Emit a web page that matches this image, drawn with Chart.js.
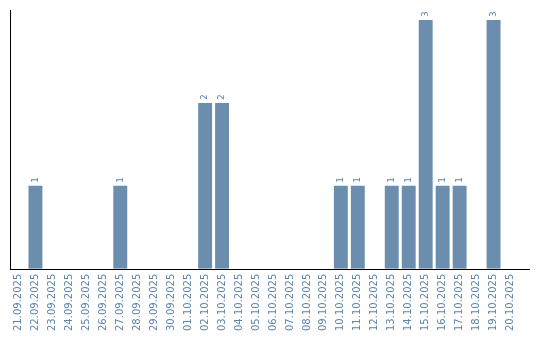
<!DOCTYPE html>
<html>
<head>
<meta charset="utf-8">
<script src="https://cdn.jsdelivr.net/npm/chart.js@4.4.1/dist/chart.umd.min.js"></script>
<style>
  html, body { margin: 0; padding: 0; background: #fff; }
  #wrap { width: 540px; height: 340px; }
</style>
</head>
<body>
<div id="wrap"><canvas id="chartDays" width="540" height="340"></canvas></div>
<script>
/* Datos */
const days = [
  '21.09.2025', '22.09.2025', '23.09.2025', '24.09.2025', '25.09.2025',
  '26.09.2025', '27.09.2025', '28.09.2025', '29.09.2025', '30.09.2025',
  '01.10.2025', '02.10.2025', '03.10.2025', '04.10.2025', '05.10.2025',
  '06.10.2025', '07.10.2025', '08.10.2025', '09.10.2025', '10.10.2025',
  '11.10.2025', '12.10.2025', '13.10.2025', '14.10.2025', '15.10.2025',
  '16.10.2025', '17.10.2025', '18.10.2025', '19.10.2025', '20.10.2025',
];
const counts = [
  0, 1, 0, 0, 0,
  0, 1, 0, 0, 0,
  0, 2, 2, 0, 0,
  0, 0, 0, 0, 1,
  1, 0, 1, 1, 3,
  1, 1, 0, 3, 0,
];

const barColor = '#6b8dae';
const textColor = '#5f84aa';

/* Etiquetas sobre las barras */
const valueLabels = {
  id: 'valueLabels',
  afterDatasetsDraw(chart) {
    const ctx = chart.ctx;
    const meta = chart.getDatasetMeta(0);
    ctx.save();
    ctx.fillStyle = textColor;
    ctx.font = '9px "DejaVu Sans"';
    ctx.textAlign = 'left';
    ctx.textBaseline = 'middle';
    meta.data.forEach((bar, i) => {
      if (!counts[i]) return;
      ctx.save();
      ctx.translate(bar.x, bar.y - 3);
      ctx.rotate(-Math.PI / 2);
      ctx.fillText(String(counts[i]), 0, 0);
      ctx.restore();
    });
    ctx.restore();
  },
};

/* Linea del eje x hasta el borde */
const axisLine = {
  id: 'axisLine',
  afterDraw(chart) {
    const { ctx, chartArea } = chart;
    const y = Math.round(chartArea.bottom) + 0.5;
    ctx.save();
    ctx.strokeStyle = '#000';
    ctx.lineWidth = 1;
    ctx.beginPath();
    ctx.moveTo(chartArea.left, y);
    ctx.lineTo(530, y);
    ctx.stroke();
    ctx.restore();
  },
};

const ctx = document.getElementById('chartDays').getContext('2d');
const chartDays = new Chart(ctx, {
  type: 'bar',
  data: {
    labels: days,
    datasets: [
      {
        data: counts,
        backgroundColor: barColor,
        borderWidth: 0,
        categoryPercentage: 0.82,
        barPercentage: 1,
      },
    ],
  },
  options: {
    responsive: false,
    animation: false,
    layout: { padding: { left: 9, right: 21, top: 10, bottom: 4 } },
    plugins: {
      legend: { display: false },
      tooltip: { enabled: false },
    },
    scales: {
      x: {
        grid: { display: false, drawTicks: false },
        border: { display: false },
        ticks: {
          color: textColor,
          font: { family: 'DejaVu Sans', size: 10 },
          minRotation: 90,
          maxRotation: 90,
          autoSkip: false,
          padding: 5,
        },
      },
      y: {
        min: 0,
        max: 3.12,
        grid: { display: false, drawTicks: false },
        border: { color: '#000', width: 1 },
        ticks: { display: false },
        afterFit: (scale) => { scale.width = 1; },
      },
    },
  },
  plugins: [valueLabels, axisLine],
});
</script>
</body>
</html>
